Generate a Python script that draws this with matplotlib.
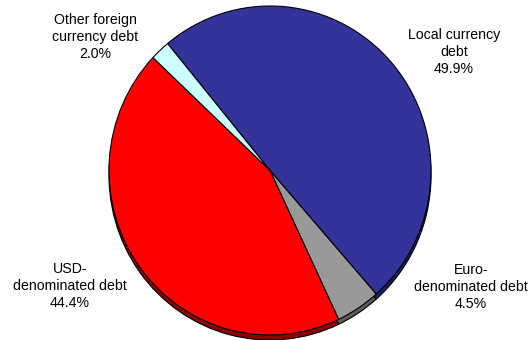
import matplotlib
matplotlib.use("Agg")
import matplotlib.pyplot as plt

plt.rcParams['font.family'] = ['Liberation Sans', 'DejaVu Sans']

# Debt composition shares (%)
categories = ["Local currency\ndebt", "Euro-\ndenominated debt",
              "USD-\ndenominated debt", "Other foreign\ncurrency debt"]
shares = [49.9, 4.5, 44.4, 2.0]
face_colors = ["#333399", "#999999", "#FF0000", "#CCFFFF"]
side_colors = ["#1F1F5E", "#5A5A5A", "#8B0000", "#7FA0A0"]
label_pos = [(454, 52), (471, 287), (70, 286), (95, 37)]  # pixel positions from top-left

W, H = 532, 340
fig = plt.figure(figsize=(W / 100, H / 100), dpi=100)
ax = fig.add_axes([0, 0, 1, 1])

# slight vertical stretch of the pie
sy = 164.5 / 161.0
cx, cy, r = 270, (H - 170.5) / sy, 161
depth = 5 / sy

# side (depth) of the pie, drawn underneath and shifted down
ax.pie(shares, colors=side_colors, startangle=129.5, counterclock=False,
       center=(cx, cy - depth), radius=r, frame=True,
       wedgeprops=dict(edgecolor="black", linewidth=0.8))
# top face
ax.pie(shares, colors=face_colors, startangle=129.5, counterclock=False,
       center=(cx, cy), radius=r, frame=True,
       wedgeprops=dict(edgecolor="black", linewidth=0.8))

ax.set_xlim(0, W)
ax.set_ylim(0, H / sy)
ax.set_aspect("auto")
ax.axis("off")

for name, val, (x, y) in zip(categories, shares, label_pos):
    ax.text(x, (H - y) / sy, f"{name}\n{val:.1f}%", ha="center", va="center",
            fontsize=10.2, color="black", linespacing=1.25)

fig.savefig("out.png", dpi=100)
